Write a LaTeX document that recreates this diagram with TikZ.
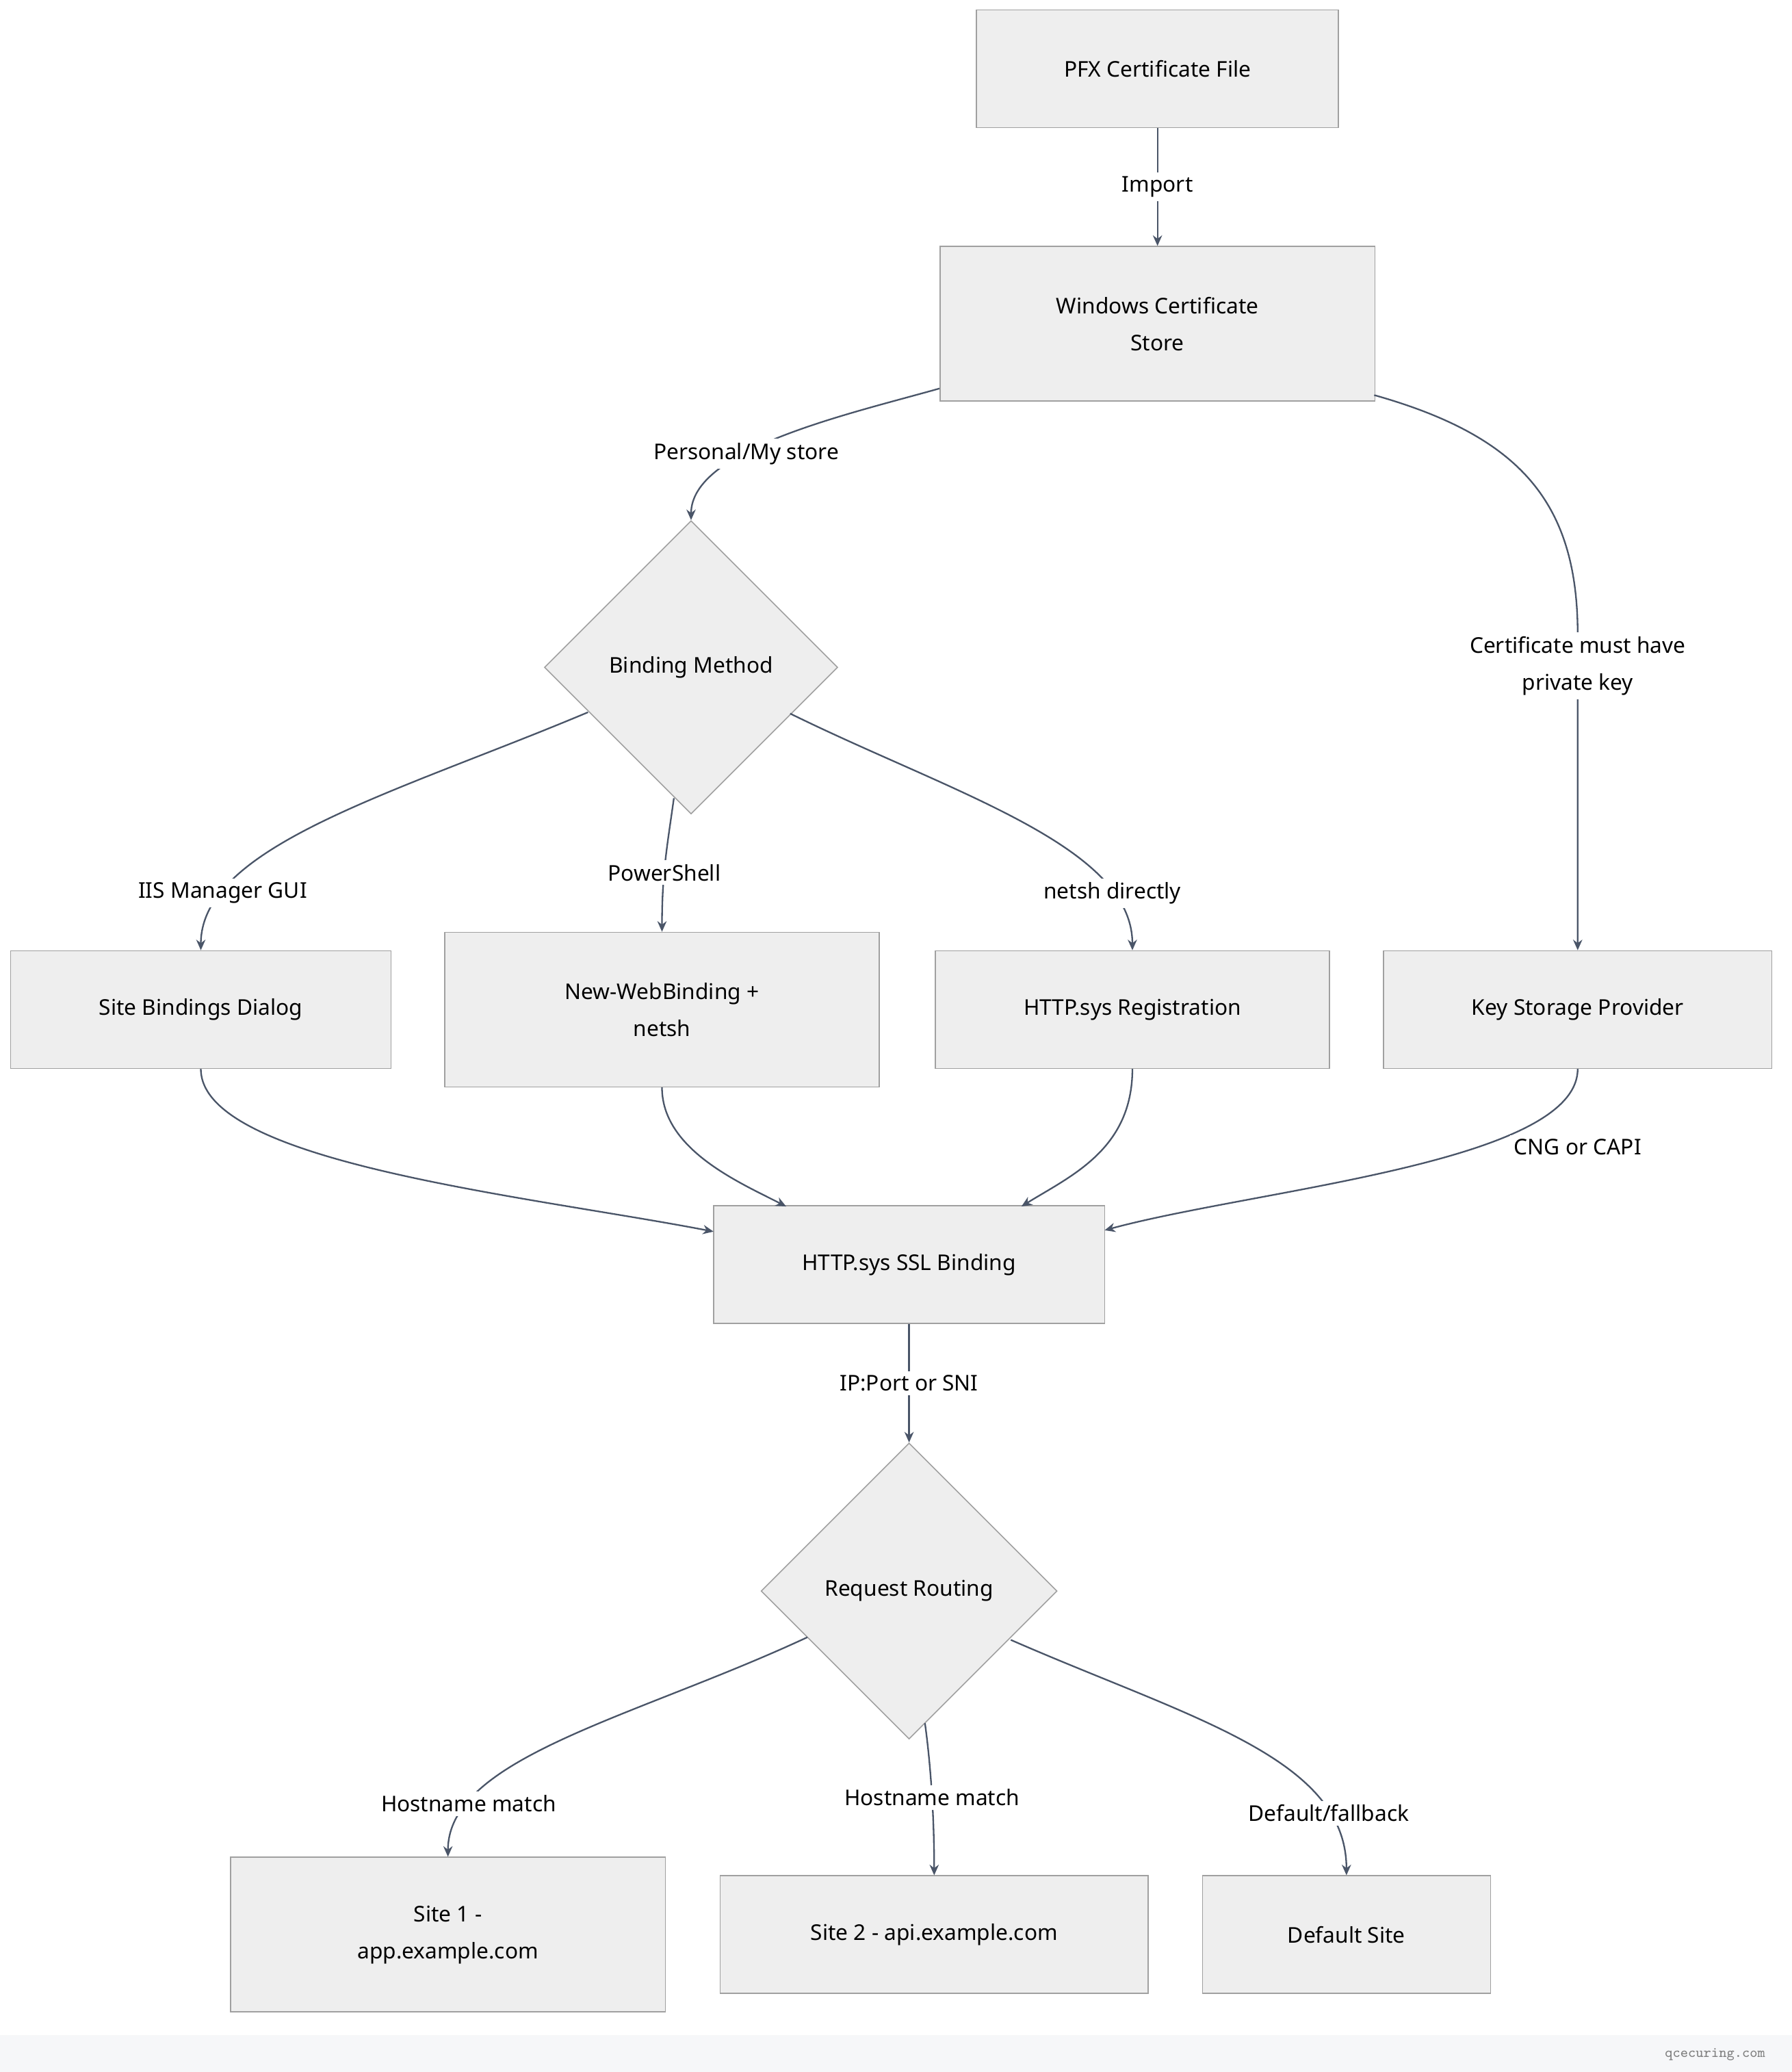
\documentclass[tikz,border=0pt]{standalone}
\usepackage{fontspec}
\setmainfont{Noto Sans}
\usetikzlibrary{shapes.geometric,arrows.meta}
\definecolor{boxfill}{HTML}{EEEEEE}
\definecolor{boxline}{HTML}{A0A0A0}
\definecolor{edge}{HTML}{4A5568}
\definecolor{strip}{HTML}{F6F7F9}
\begin{document}
\begin{tikzpicture}[x=0.5pt,y=-0.5pt,
  box/.style={draw=boxline,fill=boxfill,align=center,font=\fontsize{8.2}{14}\selectfont,inner sep=0pt},
  dia/.style={draw=boxline,fill=boxfill,diamond,align=center,font=\fontsize{8.2}{14}\selectfont,minimum width=111pt,minimum height=111pt,inner sep=0pt},
  lbl/.style={fill=white,align=center,font=\fontsize{8.2}{14}\selectfont,inner sep=1.5pt},
  conn/.style={draw=edge,line width=0.6pt,-{Stealth[length=4pt,width=3.5pt]}}]
\useasboundingbox (0,0) rectangle (1356,1568);
\fill[strip] (0,1540) rectangle (1356,1568);
\node[font=\ttfamily\fontsize{5.5}{6}\selectfont,text=gray] (wm) at (1298,1555) {qcecuring.com};
\node[box,minimum width=137pt,minimum height=44.5pt] (pfx) at (876,52) {PFX Certificate File};
\node[box,minimum width=164.5pt,minimum height=58.5pt] (wcs) at (876,245) {Windows Certificate\\Store};
\node[dia] (bm) at (523,505) {Binding Method};
\node[box,minimum width=144pt,minimum height=44.5pt] (sbd) at (152,764) {Site Bindings Dialog};
\node[box,minimum width=164.5pt,minimum height=58.5pt] (nwb) at (501,764) {New-WebBinding +\\netsh};
\node[box,minimum width=149pt,minimum height=44.5pt] (hreg) at (857,764) {HTTP.sys Registration};
\node[box,minimum width=147pt,minimum height=44.5pt] (ksp) at (1194,764) {Key Storage Provider};
\node[box,minimum width=148pt,minimum height=44.5pt] (ssl) at (688,957) {HTTP.sys SSL Binding};
\node[dia,minimum width=112pt,minimum height=112pt] (rr) at (688,1204) {Request Routing};
\node[box,minimum width=164.5pt,minimum height=58.5pt] (s1) at (339,1464) {Site 1 -\\app.example.com};
\node[box,minimum width=162pt,minimum height=44.5pt] (s2) at (707,1464) {Site 2 - api.example.com};
\node[box,minimum width=109pt,minimum height=44.5pt] (ds) at (1019,1464) {Default Site};

\draw[conn] (pfx.south) -- node[lbl]{Import} (wcs.north);
\draw[conn] (711,294) .. controls (640,314) and (523,340) .. node[lbl,pos=0.62]{Personal/My store} (bm.north);
\draw[conn] (1040,299) .. controls (1150,330) and (1194,380) .. (1194,480) -- node[lbl,pos=0.1]{Certificate must have\\private key} (ksp.north);
\draw[conn] (445,539) .. controls (300,600) and (152,640) .. node[lbl,pos=0.8]{IIS Manager GUI} (sbd.north);
\draw[conn] (510,604) .. controls (505,640) and (501,660) .. node[lbl,pos=0.6]{PowerShell} (nwb.north);
\draw[conn] (598,540) .. controls (720,600) and (857,640) .. node[lbl,pos=0.8]{netsh directly} (hreg.north);
\draw[conn] (sbd.south) .. controls (152,880) and (400,905) .. (540,932);
\draw[conn] (nwb.south) .. controls (501,870) and (560,895) .. (595,913);
\draw[conn] (hreg.south) .. controls (857,870) and (810,890) .. (773,913);
\draw[conn] (ksp.south) .. controls (1194,880) and (950,900) .. (836,931);
\node[lbl] (cng) at (1194,868) {CNG or CAPI};
\draw[conn] (ssl.south) -- node[lbl]{IP:Port or SNI} (rr.north);
\draw[conn] (611,1239) .. controls (480,1300) and (339,1330) .. node[lbl,pos=0.8]{Hostname match} (s1.north);
\draw[conn] (700,1304) .. controls (705,1340) and (707,1380) .. node[lbl,pos=0.5]{Hostname match} (s2.north);
\draw[conn] (765,1241) .. controls (900,1300) and (1019,1330) .. node[lbl,pos=0.8]{Default/fallback} (ds.north);
\end{tikzpicture}
\end{document}
